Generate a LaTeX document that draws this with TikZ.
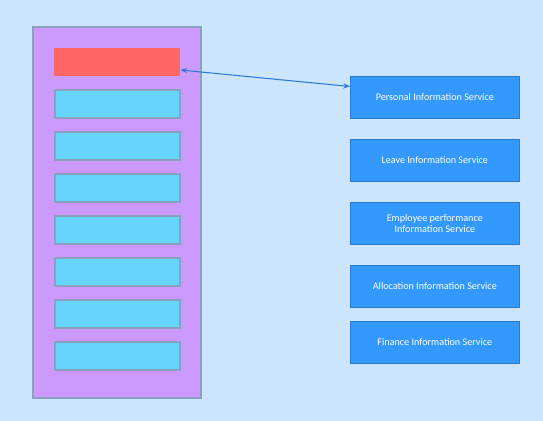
\documentclass[tikz,border=0pt]{standalone}
\usepackage{fontspec}
\setmainfont{Carlito}
\usetikzlibrary{arrows.meta}
\definecolor{bg}{HTML}{CCE5FF}
\definecolor{purp}{HTML}{CC99FF}
\definecolor{redb}{HTML}{FF6666}
\definecolor{cyanb}{HTML}{66D4FC}
\definecolor{blueb}{HTML}{3399FF}
\definecolor{greyb}{HTML}{8AA0BE}
\definecolor{blueline}{HTML}{2B7BD0}
\tikzset{
  px/.style={x=0.75pt,y=-0.75pt},
  outerbox/.style={draw=greyb,fill=purp,line width=0.8pt},
  redbox/.style={fill=redb,draw=none},
  cyanbox/.style={fill=cyanb,draw=greyb,line width=1pt},
  svcbox/.style={fill=blueb,draw=blueline,line width=0.5pt,text=white,font=\fontsize{7.6}{8.2}\selectfont,align=center,
    minimum width=169*0.75pt,minimum height=42*0.75pt,anchor=north west,inner sep=0pt},
  link/.style={draw=blueline,line width=0.8pt,{Stealth[length=5pt,width=4pt]}-{Stealth[length=5pt,width=4pt]}}
}
\begin{document}
\begin{tikzpicture}[px]
\fill[bg] (0,0) rectangle (543,421);
\useasboundingbox (0,0) rectangle (543,421);
\draw[outerbox] (33,27) rectangle (201,398);
\path[redbox] (54,48) rectangle (180,76);
\coordinate (redR) at (180.5,70);
\foreach \y in {90,132,174,216,258,300,342}{
  \draw[cyanbox] (55,\y) rectangle (180,\y+28);
}
\node[svcbox] (s1) at (350,76) {Personal Information Service};
\node[svcbox] (s2) at (350,139) {Leave Information Service};
\node[svcbox] (s3) at (350,202) {Employee performance\\Information Service};
\node[svcbox] (s4) at (350,265) {Allocation Information Service};
\node[svcbox] (s5) at (350,321) {Finance Information Service};
\coordinate (s1L) at (350,86.5);
\draw[link] (redR) -- (s1L);
\end{tikzpicture}
\end{document}
